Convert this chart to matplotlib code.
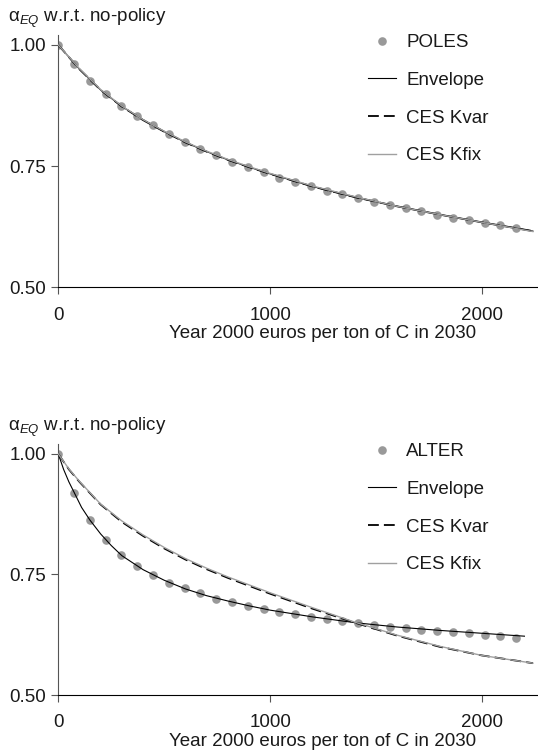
import matplotlib
matplotlib.use("Agg")
import matplotlib.pyplot as plt

plt.rcParams["font.family"] = ["Liberation Sans", "DejaVu Sans"]
plt.rcParams["mathtext.fontset"] = "custom"
plt.rcParams["mathtext.rm"] = "Liberation Sans"
plt.rcParams["mathtext.it"] = "Liberation Sans:italic"

# model points (same price grid for both panels)
model_x = [0, 75, 149, 224, 298, 373, 447, 522, 596, 671, 745, 820, 894, 969, 1043,
           1118, 1192, 1267, 1341, 1416, 1490, 1565, 1639, 1714, 1788, 1863, 1937,
           2012, 2086, 2161]
poles_y = [1.000, 0.961, 0.926, 0.898, 0.874, 0.853, 0.834, 0.816, 0.800, 0.786,
           0.773, 0.759, 0.749, 0.738, 0.726, 0.717, 0.708, 0.699, 0.692, 0.684,
           0.677, 0.670, 0.663, 0.657, 0.650, 0.644, 0.638, 0.633, 0.628, 0.622]
alter_y = [1.000, 0.920, 0.863, 0.821, 0.790, 0.767, 0.749, 0.733, 0.722, 0.711,
           0.699, 0.692, 0.685, 0.678, 0.673, 0.667, 0.662, 0.658, 0.654, 0.649,
           0.646, 0.642, 0.638, 0.635, 0.633, 0.630, 0.628, 0.625, 0.622, 0.618]

# fitted curves, top panel (POLES)
top_curve_x = [0, 100, 200, 300, 400, 500, 600, 700, 800, 900, 1000, 1200, 1400,
               1600, 1800, 2000, 2240]
top_env_y = [1.000, 0.950, 0.907, 0.873, 0.846, 0.821, 0.799, 0.780, 0.763, 0.748,
             0.734, 0.708, 0.686, 0.667, 0.650, 0.634, 0.616]
top_kvar_y = [1.000, 0.950, 0.907, 0.873, 0.845, 0.821, 0.799, 0.780, 0.763, 0.748,
              0.734, 0.708, 0.686, 0.667, 0.650, 0.634, 0.616]
top_kfix_y = [1.000, 0.951, 0.908, 0.874, 0.846, 0.822, 0.800, 0.781, 0.764, 0.749,
              0.735, 0.709, 0.687, 0.667, 0.650, 0.634, 0.615]

# fitted curves, bottom panel (ALTER)
bot_env_x = [0, 25, 50, 75, 110, 149, 200, 250, 300, 400, 500, 600, 700, 800, 900,
             1000, 1200, 1400, 1600, 1800, 2000, 2200]
bot_env_y = [1.000, 0.968, 0.942, 0.920, 0.889, 0.863, 0.834, 0.810, 0.789, 0.760,
             0.738, 0.720, 0.706, 0.695, 0.685, 0.676, 0.662, 0.650, 0.641, 0.634,
             0.628, 0.622]
bot_ces_x = [0, 50, 100, 200, 300, 400, 500, 600, 700, 800, 1000, 1200, 1400, 1600,
             1800, 2000, 2240]
bot_kvar_y = [1.000, 0.968, 0.942, 0.895, 0.859, 0.830, 0.804, 0.781, 0.761, 0.743,
              0.710, 0.679, 0.650, 0.623, 0.600, 0.582, 0.566]
bot_kfix_y = [1.000, 0.969, 0.943, 0.896, 0.861, 0.832, 0.806, 0.783, 0.763, 0.745,
              0.712, 0.681, 0.651, 0.624, 0.601, 0.582, 0.566]

y_ticks = [0.50, 0.75, 1.00]
x_ticks = [0, 1000, 2000]

DOT = "#999999"
FIX = "#a0a0a0"
TXT = "#1a1a1a"

W, H = 538, 756
fig = plt.figure(figsize=(W / 100, H / 100), dpi=100)


def panel(bottom_px, top_px, ymax, pts_y, model, env_x, env_y, ces_x, kvar_y, kfix_y,
          leg_top_px):
    ax = fig.add_axes([58.3 / W, 1 - bottom_px / H, 1 - 58.3 / W,
                       (bottom_px - top_px) / H])
    ax.plot(model_x, pts_y, "o", color=DOT, ms=6.2, mec="none", label=model, zorder=2)
    ax.plot(env_x, env_y, color="black", lw=0.8, label="Envelope", zorder=3)
    ax.plot(ces_x, kvar_y, color="black", lw=1.3, dashes=(6, 2.8), label="CES Kvar",
            zorder=3)
    ax.plot(ces_x, kfix_y, color=FIX, lw=1.0, label="CES Kfix", zorder=4)

    ax.set_xlim(0, 2264)
    ax.set_ylim(0.5, ymax)
    ax.set_xticks(x_ticks)
    ax.set_xticklabels([str(v) for v in x_ticks])
    ax.set_yticks(y_ticks)
    ax.set_yticklabels([f"{v:.2f}" for v in y_ticks])
    for s in ["top", "right"]:
        ax.spines[s].set_visible(False)
    ax.spines["left"].set_color("#555555")
    ax.spines["bottom"].set_color("black")
    ax.tick_params(axis="y", length=5, width=0.8, pad=4, labelsize=13.5,
                   labelcolor=TXT, color="#555555")
    ax.tick_params(axis="x", length=5, width=0.8, pad=9, labelsize=13.5,
                   labelcolor=TXT, color="#555555")
    ax.set_xlabel("Year 2000 euros per ton of C in 2030", fontsize=13.5,
                  color=TXT, labelpad=1)
    ax.xaxis.label.set_x(0.551)

    fig.text(8 / W, 1 - (top_px - 13) / H, r"$\mathrm{\alpha}_{EQ}$ w.r.t. no-policy",
             fontsize=13.5, color=TXT, va="baseline", ha="left")

    ax.legend(loc="upper left", bbox_to_anchor=(368 / W, 1 - leg_top_px / H),
              bbox_transform=fig.transFigure, frameon=False, fontsize=13.5,
              borderpad=0, borderaxespad=0, handlelength=1.5, handletextpad=0.55,
              labelspacing=1.1, numpoints=1, labelcolor=TXT)
    return ax


panel(287.3, 35, 1.0206, poles_y, "POLES", top_curve_x, top_env_y, top_curve_x,
      top_kvar_y, top_kfix_y, 34)
panel(695, 444.3, 1.020, alter_y, "ALTER", bot_env_x, bot_env_y, bot_ces_x,
      bot_kvar_y, bot_kfix_y, 443)

fig.savefig("out.png", dpi=100)
